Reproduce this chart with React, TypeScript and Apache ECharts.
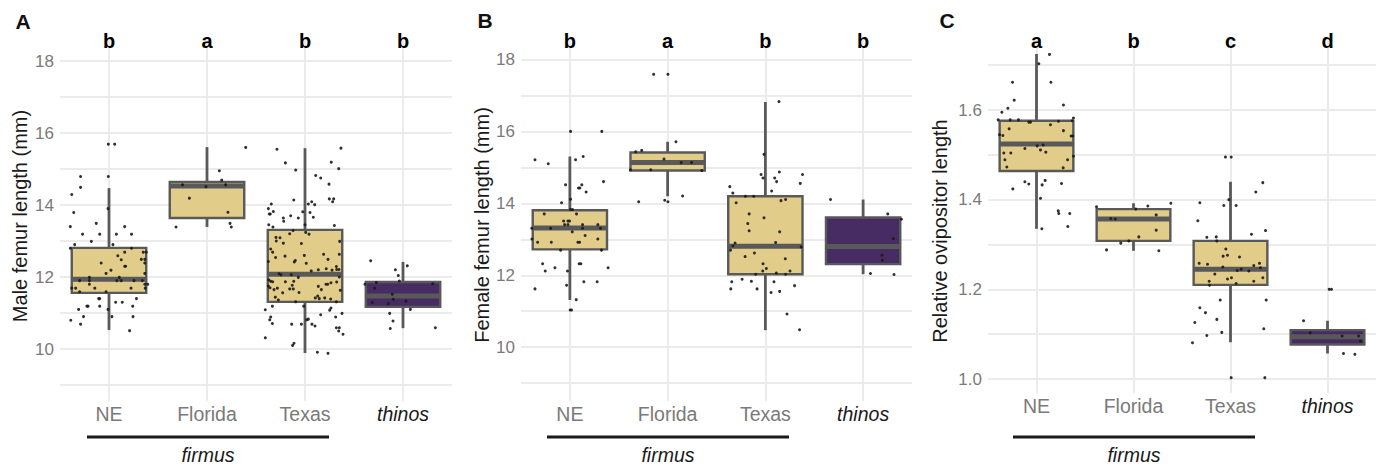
import React, { useEffect, useRef } from "react";
import * as echarts from "echarts";

const FONT = "'Liberation Sans', Arial, Helvetica, sans-serif";

const categories = ["NE", "Florida", "Texas", "thinos"];
const boxFills = ["#e2cc8a", "#e2cc8a", "#e2cc8a", "#472c64"];

// box stats: [min, q1, median, q3, max]
const maleBoxes = [
  [10.53, 11.56, 11.94, 12.81, 14.47],
  [13.39, 13.64, 14.53, 14.64, 15.61],
  [9.89, 11.31, 12.08, 13.31, 15.58],
  [10.58, 11.17, 11.47, 11.86, 12.42],
];
const femaleBoxes = [
  [11.31, 12.72, 13.32, 13.81, 15.31],
  [14.2, 14.92, 15.14, 15.42, 15.72],
  [10.47, 12.03, 12.81, 14.2, 16.83],
  [12.03, 12.31, 12.8, 13.61, 14.11],
];
const ovBoxes = [
  [1.335, 1.464, 1.524, 1.576, 1.725],
  [1.286, 1.308, 1.357, 1.379, 1.392],
  [1.082, 1.21, 1.245, 1.308, 1.44],
  [1.057, 1.077, 1.094, 1.109, 1.13],
];

const maleLetters = ["b", "a", "b", "b"];
const femaleLetters = ["b", "a", "b", "b"];
const ovLetters = ["a", "b", "c", "d"];

const femurTicks = [10, 12, 14, 16, 18];
const femurGrid = [9, 10, 11, 12, 13, 14, 15, 16, 17, 18];
const ovTicks = [1.0, 1.2, 1.4, 1.6];
const ovGrid = [1.0, 1.1, 1.2, 1.3, 1.4, 1.5, 1.6, 1.7];

// jittered points: [horizontal jitter (category units), value]
const maleNE = [[-0.007,15.69],[0.058,15.69],[-0.29,14.79],[-0.007,14.79],[-0.29,14.49],[-0.38,14.29],[-0.01,13.90],[-0.36,13.79],[-0.395,13.40],[-0.13,13.49],[0.16,13.40],[-0.27,13.19],[-0.095,13.19],[0.075,13.19],[0.23,13.19],[-0.18,12.99],[-0.35,12.90],[0.04,12.90],[-0.395,12.80],[0.23,12.80],[0.35,12.69],[0.38,12.69],[0.16,12.69],[0.09,12.59],[0.125,12.48],[0.33,12.49],[0.365,12.49],[0.365,12.39],[-0.08,12.39],[0.16,12.30],[0.17,12.30],[0.02,12.19],[-0.03,12.10],[0.365,12.10],[0.105,11.99],[-0.2,11.99],[-0.3,11.90],[-0.2,11.90],[0.08,11.90],[0.125,11.90],[0.255,11.90],[0.34,11.90],[-0.2,11.80],[0.365,11.80],[0.395,11.80],[-0.38,11.69],[-0.34,11.69],[-0.145,11.69],[0.225,11.69],[0.37,11.69],[-0.3,11.59],[-0.03,11.59],[-0.105,11.40],[-0.095,11.40],[0.28,11.40],[0.068,11.30],[0.135,11.30],[-0.225,11.19],[-0.214,11.19],[-0.095,11.19],[0.242,11.19],[-0.31,11.10],[-0.01,11.10],[-0.26,10.90],[0.03,10.90],[0.245,10.90],[-0.39,10.80],[-0.29,10.69],[0.21,10.51]];
const maleFL = [[0.395,15.60],[0.126,14.95],[0.15,14.69],[-0.25,14.56],[-0.01,14.51],[0.19,14.56],[-0.18,14.19],[0.214,13.80],[-0.316,13.39],[0.235,13.49],[0.248,13.39]];
const maleTX = [[-0.286,15.55],[0.367,15.58],[-0.2,15.17],[0.268,15.19],[0.344,15.01],[-0.095,14.97],[0.109,14.82],[0.16,14.75],[0.245,14.58],[-0.115,14.14],[0.248,14.17],[0.293,14.17],[0.282,14.09],[-0.344,14.03],[0.034,14.03],[0.068,14.09],[0.099,14.01],[-0.374,13.90],[-0.323,13.82],[-0.364,13.75],[-0.354,13.75],[-0.146,13.70],[-0.023,13.81],[0.051,13.79],[-0.221,13.64],[-0.217,13.55],[-0.068,13.64],[0.085,13.66],[-0.37,13.45],[-0.327,13.39],[0,13.45],[0.3,13.43],[-0.122,13.29],[-0.156,13.20],[0.007,13.24],[0.041,13.19],[-0.296,13.10],[-0.255,13.09],[-0.293,13.00],[-0.221,12.94],[-0.037,12.93],[0.354,12.99],[-0.35,12.78],[-0.33,12.69],[-0.204,12.58],[-0.007,12.60],[0.19,12.63],[0.235,12.49],[-0.3,12.54],[-0.374,12.43],[-0.099,12.46],[-0.109,12.42],[0.013,12.38],[0.35,12.63],[0.32,12.29],[0.323,12.21],[0.276,12.19],[0.064,12.17],[0.136,12.20],[0.217,12.23],[0.347,12.21],[-0.265,12.09],[-0.245,12.06],[-0.14,12.06],[-0.068,11.99],[0.35,12.0],[-0.37,11.92],[-0.35,11.88],[-0.33,11.87],[-0.2,11.87],[-0.115,11.88],[0.265,11.84],[0.323,11.86],[0.214,11.80],[0.232,11.80],[-0.374,11.75],[-0.357,11.70],[-0.316,11.65],[-0.282,11.69],[-0.13,11.77],[-0.12,11.67],[0.136,11.74],[0.167,11.65],[0.36,11.63],[-0.228,11.56],[-0.156,11.67],[-0.061,11.57],[-0.303,11.44],[-0.272,11.36],[0.13,11.47],[0.105,11.42],[0.146,11.40],[0.201,11.42],[0.262,11.39],[-0.095,11.31],[0.32,11.31],[-0.405,11.09],[-0.333,11.19],[-0.013,11.19],[0.252,11.08],[0.265,11.14],[0.378,10.99],[-0.35,10.89],[-0.36,10.81],[-0.333,10.71],[0.16,10.95],[0.313,10.89],[0.017,10.81],[0.034,10.83],[0.071,10.69],[0.102,10.64],[-0.136,10.69],[-0.037,10.69],[0.32,10.59],[0.35,10.59],[0.344,10.50],[0.388,10.41],[-0.405,10.31],[-0.112,10.16],[-0.126,10.10],[0.126,9.91],[0.235,9.88]];
const maleTH = [[-0.33,12.45],[0.044,12.31],[-0.078,12.20],[-0.048,12.04],[-0.037,11.89],[-0.272,11.85],[-0.388,11.80],[0.303,11.81],[-0.29,11.69],[-0.109,11.52],[-0.099,11.38],[0.031,11.33],[-0.313,11.29],[-0.15,11.26],[0.075,11.10],[-0.136,10.99],[-0.102,10.78],[-0.13,10.57],[0.33,10.59]];

const femaleNE = [[0.007,16.01],[0.327,16.01],[-0.357,15.22],[-0.221,15.11],[0.058,15.22],[0.136,15.31],[0.344,14.61],[-0.044,14.52],[0.122,14.52],[0.088,14.43],[0.102,14.43],[0.166,14.32],[0.007,14.12],[-0.085,14.02],[0.007,13.83],[0.027,13.83],[-0.262,13.71],[0.068,13.71],[-0.064,13.51],[-0.02,13.51],[-0.003,13.51],[-0.054,13.41],[-0.02,13.41],[0.13,13.41],[0.286,13.41],[-0.39,13.31],[-0.197,13.31],[0.13,13.31],[0.313,13.31],[0.024,13.21],[0.156,13.11],[-0.388,13.01],[-0.33,12.92],[-0.19,12.92],[0.082,12.92],[0.099,12.92],[0.286,13.01],[-0.095,12.70],[0.323,12.70],[-0.279,12.32],[-0.153,12.21],[0.095,12.32],[0.112,12.32],[-0.252,12.12],[-0.024,12.12],[0.391,12.21],[0.143,11.82],[0.279,11.82],[-0.357,11.62],[-0.034,11.72],[0.065,11.32],[0.003,11.03],[0.017,11.03]];
const femaleFL = [[-0.143,17.60],[0.003,17.60],[0.085,15.72],[-0.327,15.44],[-0.265,15.48],[-0.037,15.24],[0.139,15.14],[0.245,15.14],[-0.173,14.94],[-0.38,14.94],[0.35,14.92],[-0.296,14.05],[-0.03,14.09],[0.003,14.05],[0.153,14.21]];
const femaleTX = [[0.139,16.84],[-0.014,15.37],[-0.044,14.81],[-0.024,14.71],[0.095,14.71],[0.143,14.88],[0.115,14.61],[0.38,14.81],[0.357,14.56],[-0.364,14.47],[-0.333,14.29],[0.064,14.35],[-0.204,14.20],[-0.119,14.20],[0.16,14.08],[0.207,14.11],[-0.299,14.02],[-0.166,13.71],[-0.014,13.60],[-0.18,13.44],[-0.166,13.24],[0.146,13.21],[0.105,12.91],[-0.31,12.90],[-0.333,12.82],[-0.357,12.70],[0.367,12.79],[-0.112,12.62],[-0.207,12.52],[0.204,12.46],[-0.024,12.32],[0.01,12.19],[-0.027,12.12],[0.252,12.12],[-0.099,12.03],[0.112,12.06],[0.207,12.03],[-0.344,11.82],[-0.238,11.89],[-0.143,11.83],[0.088,11.82],[-0.354,11.62],[-0.085,11.62],[0.299,11.71],[0.058,11.52],[0.146,11.55],[0.221,10.92],[0.35,10.48]];
const femaleTH = [[-0.334,14.11],[0.252,13.71],[0.391,13.56],[0.309,13.02],[0.194,12.56],[0.197,12.42],[0.075,12.05],[0.316,12.02]];

const ovNE = [[0.134,1.724],[0.024,1.703],[-0.247,1.662],[0.148,1.662],[-0.23,1.622],[-0.295,1.604],[-0.357,1.595],[0.278,1.611],[-0.395,1.578],[-0.271,1.578],[-0.186,1.578],[-0.079,1.573],[-0.062,1.573],[0.227,1.575],[0.368,1.576],[0.381,1.582],[0.144,1.567],[-0.282,1.558],[0.278,1.554],[-0.381,1.545],[-0.347,1.543],[0.357,1.542],[0.374,1.542],[-0.12,1.514],[0.007,1.520],[0.041,1.511],[0.069,1.522],[0.096,1.506],[-0.337,1.504],[-0.265,1.504],[0.381,1.497],[-0.326,1.489],[0.32,1.489],[-0.306,1.473],[0.275,1.471],[-0.244,1.424],[-0.12,1.440],[-0.079,1.435],[0.058,1.433],[0.089,1.443],[0.258,1.436],[0.041,1.403],[0.224,1.375],[0.23,1.369],[0.343,1.369],[0.323,1.340],[0.055,1.335]];
const ovFL = [[-0.381,1.384],[0.024,1.379],[0.148,1.386],[0.385,1.392],[0.234,1.366],[-0.234,1.358],[-0.189,1.357],[0.234,1.332],[0.055,1.317],[-0.131,1.303],[-0.048,1.308],[-0.278,1.288],[0.261,1.286]];
const ovTX = [[-0.052,1.495],[0.007,1.495],[0.333,1.438],[0.261,1.417],[-0.316,1.393],[-0.069,1.387],[0.058,1.387],[-0.017,1.400],[-0.337,1.353],[0.216,1.323],[0.361,1.331],[-0.244,1.316],[-0.147,1.317],[-0.141,1.308],[-0.048,1.290],[-0.076,1.274],[-0.031,1.276],[0.093,1.272],[-0.323,1.258],[-0.237,1.256],[-0.079,1.250],[0.299,1.258],[0.24,1.253],[0.069,1.242],[0.11,1.245],[0.189,1.241],[0.309,1.248],[-0.162,1.234],[-0.031,1.223],[0.01,1.226],[0.058,1.213],[-0.22,1.218],[-0.216,1.209],[0.24,1.218],[0.333,1.226],[-0.106,1.176],[0.368,1.176],[-0.316,1.159],[-0.258,1.148],[-0.141,1.133],[-0.368,1.126],[-0.09,1.104],[0.343,1.112],[-0.244,1.097],[-0.392,1.081],[0.007,1.003],[0.354,1.003]];
const ovTH = [[0.017,1.200],[0.041,1.200],[-0.247,1.130],[-0.178,1.103],[0.151,1.096],[0.32,1.096],[0.34,1.084],[0.165,1.057],[0.282,1.055]];

type Panel = {
  left: number; width: number; top: number; height: number;
  yMin: number; yMax: number; ticks: number[]; gridVals: number[];
  decimals: number; boxes: number[][]; points: number[][][];
  letters: string[]; letterY: number;
};

const panels: Panel[] = [
  { left: 60, width: 392, top: 38, height: 363, yMin: 8.556, yMax: 18.639, ticks: femurTicks, gridVals: femurGrid, decimals: 0, boxes: maleBoxes, points: [maleNE, maleFL, maleTX, maleTH], letters: maleLetters, letterY: 18.55 },
  { left: 521, width: 391, top: 38, height: 363, yMin: 8.495, yMax: 18.613, ticks: femurTicks, gridVals: femurGrid, decimals: 0, boxes: femaleBoxes, points: [femaleNE, femaleFL, femaleTX, femaleTH], letters: femaleLetters, letterY: 18.53 },
  { left: 988, width: 388, top: 38, height: 355, yMin: 0.9688, yMax: 1.7606, ticks: ovTicks, gridVals: ovGrid, decimals: 1, boxes: ovBoxes, points: [ovNE, ovFL, ovTX, ovTH], letters: ovLetters, letterY: 1.754 },
];

const STROKE = "#595959";

function buildOption() {
  const grid: any[] = [];
  const xAxis: any[] = [];
  const yAxis: any[] = [];
  const series: any[] = [];
  panels.forEach((p, k) => {
    grid.push({ left: p.left, top: p.top, width: p.width, height: p.height, containLabel: false, outerBoundsMode: "none" });
    xAxis.push({
      type: "category", gridIndex: k, data: categories, boundaryGap: true,
      axisLine: { show: false }, axisTick: { show: false }, splitLine: { show: false },
      axisLabel: {
        interval: 0, hideOverlap: false,
        margin: 3, color: "#7a7a7a", fontSize: 19.5, fontFamily: FONT,
        formatter: (v: string) => (v === "thinos" ? "{it|thinos}" : v),
        rich: { it: { fontStyle: "italic", color: "#1a1a1a", fontSize: 19.5, fontFamily: FONT } },
      },
    });
    xAxis.push({ type: "value", gridIndex: k, min: -0.5, max: 3.5, show: false, splitLine: { show: false } });
    yAxis.push({
      type: "value", gridIndex: k, min: p.yMin, max: p.yMax,
      axisLine: { show: false }, axisTick: { show: false }, splitLine: { show: false },
      axisLabel: {
        customValues: p.ticks, margin: 6, color: "#7a7a7a", fontSize: 17, fontFamily: FONT,
        formatter: (v: number) => v.toFixed(p.decimals),
      },
    });
    // grid lines
    series.push({
      type: "scatter", xAxisIndex: 2 * k + 1, yAxisIndex: k, data: [], z: 0, silent: true,
      markLine: {
        z: 0, zlevel: 0,
        silent: true, symbol: ["none", "none"], animation: false, label: { show: false },
        lineStyle: { color: "#ebebeb", width: 2, type: "solid" },
        emphasis: { disabled: true },
        data: [
          ...p.gridVals.map((v) => ({ yAxis: v })),
          ...categories.map((_, i) => ({ xAxis: i })),
        ],
      },
    });
    // boxes
    series.push({
      type: "custom", xAxisIndex: 2 * k, yAxisIndex: k, z: 2, silent: true,
      data: p.boxes.map((b, i) => [i, ...b]),
      encode: { x: 0, y: [1, 2, 3, 4, 5] },
      renderItem: (params: any, api: any) => {
        const i = api.value(0);
        const lo = api.coord([i, api.value(1)]);
        const q1 = api.coord([i, api.value(2)]);
        const md = api.coord([i, api.value(3)]);
        const q3 = api.coord([i, api.value(4)]);
        const hi = api.coord([i, api.value(5)]);
        const w = api.size([1, 0])[0] * 0.76;
        const x0 = q1[0] - w / 2;
        return {
          type: "group",
          children: [
            { type: "line", shape: { x1: hi[0], y1: hi[1], x2: q3[0], y2: q3[1] }, style: { stroke: STROKE, lineWidth: 2.8 } },
            { type: "line", shape: { x1: lo[0], y1: lo[1], x2: q1[0], y2: q1[1] }, style: { stroke: STROKE, lineWidth: 2.8 } },
            { type: "rect", shape: { x: x0, y: q3[1], width: w, height: q1[1] - q3[1] }, style: { fill: boxFills[params.dataIndex], stroke: STROKE, lineWidth: 2.4 } },
            { type: "line", shape: { x1: x0, y1: md[1], x2: x0 + w, y2: md[1] }, style: { stroke: STROKE, lineWidth: 5 } },
          ],
        };
      },
    });
    // jittered points
    series.push({
      type: "scatter", xAxisIndex: 2 * k + 1, yAxisIndex: k, z: 3, silent: true,
      symbolSize: 3,
      itemStyle: { color: "#1a1a1a", opacity: 0.9 },
      data: p.points.flatMap((arr, i) => arr.map(([o, v]) => [i + o, v])),
    });
    // significance letters
    series.push({
      type: "scatter", xAxisIndex: 2 * k + 1, yAxisIndex: k, z: 4, silent: true,
      symbolSize: 0,
      itemStyle: { opacity: 1 },
      data: categories.map((_, i) => [i, p.letterY]),
      label: {
        show: true, position: "inside",
        formatter: (prm: any) => p.letters[prm.dataIndex],
        fontSize: 20, fontWeight: "bold", color: "#000000", fontFamily: FONT,
      },
    });
  });

  const yNames = [
    { text: "Male femur length (mm)", x: 20, y: 216 },
    { text: "Female femur length (mm)", x: 482, y: 225 },
    { text: "Relative ovipositor length", x: 940, y: 231 },
  ];
  const panelTags = [
    { text: "A", x: 23, y: 21 },
    { text: "B", x: 485, y: 20 },
    { text: "C", x: 947, y: 20 },
  ];
  const groupBars = [
    { x1: 87, x2: 329, cx: 208 },
    { x1: 547, x2: 789, cx: 668 },
    { x1: 1013, x2: 1255, cx: 1134 },
  ];

  const graphic: any[] = [];
  yNames.forEach((n) =>
    graphic.push({
      type: "text", x: n.x, y: n.y, rotation: Math.PI / 2,
      style: { text: n.text, fontSize: 20, fontFamily: FONT, fill: "#1a1a1a", align: "center", verticalAlign: "middle" },
    })
  );
  panelTags.forEach((t) =>
    graphic.push({
      type: "text", x: t.x, y: t.y,
      style: { text: t.text, fontSize: 21, fontWeight: "bold", fontFamily: FONT, fill: "#111111", align: "center", verticalAlign: "middle" },
    })
  );
  groupBars.forEach((b) => {
    graphic.push({ type: "line", shape: { x1: b.x1, y1: 437, x2: b.x2, y2: 437 }, style: { stroke: "#1a1a1a", lineWidth: 3 } });
    graphic.push({
      type: "text", x: b.cx, y: 455,
      style: { text: "firmus", fontSize: 19.5, fontStyle: "italic", fontFamily: FONT, fill: "#1a1a1a", align: "center", verticalAlign: "middle" },
    });
  });

  return {
    animation: false, backgroundColor: "#ffffff",
    textStyle: { fontFamily: FONT },
    grid, xAxis, yAxis, series, graphic,
  };
}

export default function App() {
  const ref = useRef<HTMLDivElement>(null);
  useEffect(() => {
    if (!ref.current) return;
    const chart = echarts.init(ref.current, undefined, { renderer: "svg" });
    chart.setOption(buildOption() as any);
    return () => chart.dispose();
  }, []);
  return <div ref={ref} style={{ position: "fixed", left: 0, top: 0, width: 1379, height: 466 }} />;
}
